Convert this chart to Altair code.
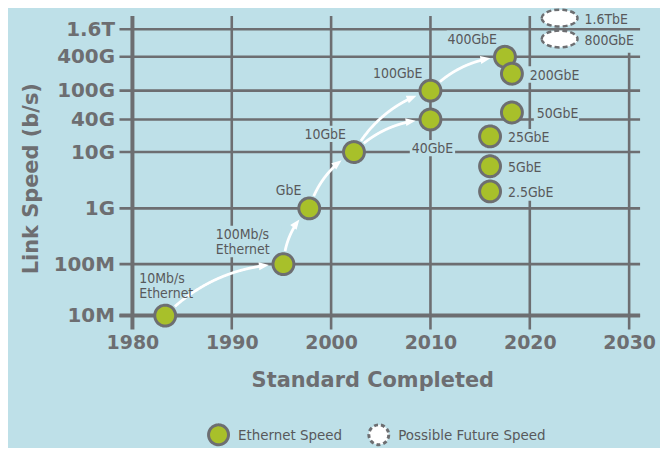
import altair as alt
import numpy as np
import pandas as pd

# ---------------- data ----------------
names = ["10Mb/s\nEthernet", "100Mb/s\nEthernet", "GbE", "10GbE", "40GbE", "100GbE",
         "400GbE", "200GbE", "50GbE", "25GbE", "5GbE", "2.5GbE"]
years = [1983.3, 1995.2, 1997.8, 2002.3, 2010.0, 2010.0,
         2017.5, 2018.2, 2018.2, 2016.0, 2016.0, 2016.0]
speeds = [1e7, 1e8, 1e9, 1e10, 4e10, 1e11,
          4e11, 2e11, 5e10, 1.95e10, 5.6e9, 2.0e9]
placements = ["above", "above-left", "upper-left", "upper-left", "below", "upper-left",
              "upper-left", "right", "right-wide", "right", "right", "right"]

future_names = ["1.6TbE", "800GbE"]
future_years = [2023.0, 2023.0]
future_speeds = [2.8e12, 9.8e11]
future_placements = ["right-wide", "right-wide"]

arrow_from = ["10Mb/s\nEthernet", "100Mb/s\nEthernet", "GbE", "10GbE", "10GbE", "100GbE"]
arrow_to = ["100Mb/s\nEthernet", "GbE", "10GbE", "40GbE", "100GbE", "400GbE"]

x_ticks = [1980, 1990, 2000, 2010, 2020, 2030]
y_ticks = [1e7, 1e8, 1e9, 1e10, 4e10, 1e11, 4e11, 1.6e12]
y_tick_labels = ["10M", "100M", "1G", "10G", "40G", "100G", "400G", "1.6T"]
legend_labels = ["Ethernet Speed", "Possible Future Speed"]

# ---------------- style / layout ----------------
BG = "#bee0e8"
GRID = "#6d6e71"
GREEN = "#a8c02a"
TXT = "#58595b"
BOLD = "DejaVu Sans"
NARROW = "DejaVu Sans Condensed, Liberation Sans Narrow, sans-serif"
LABEL_SIZE = 14
LINE_H = 15
W, H = 525, 315
X_RANGE = [15, 514]
Y_RANGE = [301, 249.3, 193.3, 136.7, 104, 75, 41, 13.3]

xs = alt.Scale(domain=[x_ticks[0], x_ticks[-1]], range=X_RANGE, nice=False, zero=False)
ys = alt.Scale(type="log", domain=y_ticks, range=Y_RANGE, nice=False, zero=False)

label_expr = " : ".join(
    f"datum.value == {v:.0f} ? '{t}'" for v, t in zip(y_ticks, y_tick_labels)) + " : ''"

x_axis = alt.Axis(values=x_ticks, format="d", domain=False, ticks=False, grid=False,
                  labelFont=BOLD, labelFontWeight="bold", labelFontSize=19, labelColor=GRID,
                  labelPadding=4, labelFlush=False, labelOverlap=False,
                  title="Standard Completed", titleFont=BOLD, titleFontWeight="bold",
                  titleFontSize=21, titleColor=GRID, titleX=256, titleY=51,
                  titleBaseline="middle", titleAlign="center")
y_axis = alt.Axis(values=y_ticks, labelExpr=label_expr, domain=False, ticks=False, grid=False,
                  labelFont=BOLD, labelFontWeight="bold", labelFontSize=20, labelColor=GRID,
                  labelPadding=3, labelOverlap=False, labelBaseline="middle",
                  title="Link Speed (b/s)", titleFont=BOLD, titleFontWeight="bold",
                  titleFontSize=21, titleColor=GRID, titleAngle=270, titleX=-86, titleY=163,
                  titleBaseline="middle", titleAlign="center")

X = alt.X("year:Q", scale=xs, axis=x_axis)
Y = alt.Y("speed:Q", scale=ys, axis=y_axis)

# ---------------- tables ----------------
pts = pd.DataFrame({"name": names, "year": years, "speed": speeds,
                    "placement": placements, "type": legend_labels[0]})
fut = pd.DataFrame({"name": future_names, "year": future_years, "speed": future_speeds,
                    "placement": future_placements, "type": legend_labels[1]})
labels = pd.concat([pts, fut], ignore_index=True)

hgrid = pd.DataFrame({"speed": y_ticks})
vgrid = pd.DataFrame({"year": x_ticks})

# helpers: data <-> pixel using the same scale definitions
lx = np.log10(y_ticks)
ppy = (X_RANGE[1] - X_RANGE[0]) / (x_ticks[-1] - x_ticks[0])


def interp_ext(v, xp, fp):
    xp = np.asarray(xp, float)
    fp = np.asarray(fp, float)
    if v < xp[0]:
        return fp[0] + (v - xp[0]) * (fp[1] - fp[0]) / (xp[1] - xp[0])
    if v > xp[-1]:
        return fp[-1] + (v - xp[-1]) * (fp[-1] - fp[-2]) / (xp[-1] - xp[-2])
    return float(np.interp(v, xp, fp))


def to_px(yr, sp):
    return np.array([X_RANGE[0] + (yr - x_ticks[0]) * ppy,
                     interp_ext(np.log10(sp), lx, Y_RANGE)])


def from_px(p):
    return (x_ticks[0] + (p[0] - X_RANGE[0]) / ppy,
            10 ** interp_ext(p[1], Y_RANGE[::-1], lx[::-1]))


# curved arrows computed from the point data
rows, heads = [], []
for k, (a, b) in enumerate(zip(arrow_from, arrow_to)):
    i, j = names.index(a), names.index(b)
    P0 = to_px(years[i], speeds[i])
    P1 = to_px(years[j], speeds[j])
    d = P1 - P0
    L = np.hypot(*d)
    u = d / L
    n = np.array([u[1], -u[0]])
    C = (P0 + P1) / 2 + n * 0.2 * L
    t = np.linspace(0, 1, 301)
    B = ((1 - t) ** 2)[:, None] * P0 + (2 * (1 - t) * t)[:, None] * C + (t ** 2)[:, None] * P1
    d0 = np.hypot(*(B - P0).T)
    d1 = np.hypot(*(B - P1).T)
    ti = np.where(d1 <= 15)[0][0]
    tt = t[ti]
    tan = 2 * (1 - tt) * (C - P0) + 2 * tt * (P1 - C)
    ang = float(np.degrees(np.arctan2(tan[1], tan[0])) % 360)
    keep = (d0 >= 13) & (d1 >= 20)
    for s, p in enumerate(B[keep]):
        yr, sp = from_px(p)
        rows.append({"arrow": k, "order": s, "year": yr, "speed": sp})
    yr, sp = from_px(B[ti])
    heads.append({"year": yr, "speed": sp, "angle": ang})
arrow_df = pd.DataFrame(rows)
head_df = pd.DataFrame(heads)

text_groups = {
    "right": dict(align="left", dx=18, dy=6),
    "right-wide": dict(align="left", dx=25, dy=6),
    "upper-left": dict(align="right", dx=-8, dy=-13),
    "above-left": dict(align="left", dx=-68, dy=-25),
    "above": dict(align="left", dx=-26, dy=-33),
    "below": dict(align="center", dx=2, dy=34),
}

# background boxes behind the labels, which break the grid lines as in the original
CHAR_W, CAP, PAD = 7.9, 10.5, 3
boxes = []
for _, r in labels.iterrows():
    g = text_groups[r["placement"]]
    ax, ay = to_px(r["year"], r["speed"]) + np.array([g["dx"], g["dy"]])
    lines = r["name"].split("\n")
    w = max(len(s) for s in lines) * CHAR_W
    x0 = {"left": ax, "right": ax - w, "center": ax - w / 2}[g["align"]]
    top = ay - CAP - PAD
    bot = ay + (len(lines) - 1) * LINE_H + PAD
    y0, s0 = from_px((x0 - PAD, top))
    y1, s1 = from_px((x0 + w + PAD, bot))
    boxes.append({"year": y0, "year2": y1, "speed": s0, "speed2": s1,
                  "placement": r["placement"], "x_at": r["year"]})
box_df = pd.DataFrame(boxes)

# one tall box over the stacked column of labels: it breaks only the vertical line
col = box_df[(box_df["placement"] == "right") & (box_df["x_at"] == 2016.0)]
col_df = pd.DataFrame([{"year": col["year"].min(), "year2": col["year2"].max(),
                        "speed": col["speed"].max(), "speed2": col["speed2"].min()}])
box_df = box_df[["year", "year2", "speed", "speed2"]]

# ---------------- layers ----------------
h_lines = alt.Chart(hgrid).mark_rule(color=GRID, strokeWidth=2.6).encode(
    y=Y, x=alt.value(2), x2=alt.value(W))
v_lines = alt.Chart(vgrid.iloc[1:-1]).mark_rule(color=GRID, strokeWidth=2.6).encode(
    x=X, y=alt.value(0), y2=alt.value(H))
v_last = alt.Chart(vgrid.iloc[-1:]).mark_rule(color=GRID, strokeWidth=2.6).encode(
    x=X, y=alt.value(37), y2=alt.value(H))
x_base = alt.Chart(hgrid.iloc[:1]).mark_rule(color=GRID, strokeWidth=4).encode(
    y=Y, x=alt.value(2), x2=alt.value(W))
y_base = alt.Chart(vgrid.iloc[:1]).mark_rule(color=GRID, strokeWidth=4).encode(
    x=X, y=alt.value(0), y2=alt.value(H))

col_mask = alt.Chart(col_df).mark_rect(color=BG, opacity=1).encode(
    x=X, x2="year2:Q", y=Y, y2="speed2:Q")
masks = alt.Chart(box_df).mark_rect(color=BG, opacity=1).encode(
    x=X, x2="year2:Q", y=Y, y2="speed2:Q")


def text_layer(group):
    opts = text_groups[group]
    return alt.Chart(labels).mark_text(
        color=TXT, font=NARROW, fontSize=LABEL_SIZE, lineBreak="\n", lineHeight=LINE_H,
        baseline="alphabetic", **opts).encode(
        x=X, y=Y, text="name:N").transform_filter(alt.datum.placement == group)


texts = [text_layer(g) for g in text_groups]

arrow_lines = alt.Chart(arrow_df).mark_line(color="white", strokeWidth=2.8,
                                            strokeCap="butt").encode(
    x=X, y=Y, detail="arrow:N", order="order:Q")
arrow_heads = alt.Chart(head_df).mark_point(
    shape="M0,0L-2,-0.8L-2,0.8Z", size=100, filled=True, fill="white",
    strokeWidth=0, opacity=1).encode(
    x=X, y=Y, angle=alt.Angle("angle:Q", scale=None))

ellipses = alt.Chart(fut).mark_point(
    shape="M-1,0A1,0.47,0,1,1,1,0A1,0.47,0,1,1,-1,0Z", size=1296, filled=True,
    fill="white", stroke=GRID, strokeWidth=2.5, strokeDash=[5, 3], opacity=1).encode(
    x=X, y=Y)


def make_legend():
    return alt.Legend(
        orient="none", legendX=90, legendY=409, direction="horizontal", title=None,
        symbolType="circle", symbolSize=400, symbolStrokeWidth=3, symbolStrokeColor=GRID,
        labelFont=NARROW, labelFontSize=15, labelColor=TXT, labelOffset=8, labelLimit=0,
        columnPadding=20, padding=0)


circles = alt.Chart(pts).mark_circle(size=440, stroke=GRID, strokeWidth=3, opacity=1).encode(
    x=X, y=Y,
    fill=alt.Fill("type:N", scale=alt.Scale(domain=legend_labels, range=[GREEN, "white"]),
                  legend=make_legend()),
    strokeDash=alt.StrokeDash("type:N",
                              scale=alt.Scale(domain=legend_labels, range=[[1, 0], [4, 3]]),
                              legend=make_legend()))

chart = alt.layer(
    v_lines, v_last, y_base, col_mask, h_lines, x_base, masks, arrow_lines, arrow_heads,
    ellipses, circles, *texts
).properties(
    width=W, height=H,
    padding={"left": 110, "top": 7, "right": 20, "bottom": 118},
    autosize=alt.AutoSizeParams(type="none"),
    background=BG,
    usermeta={"embedOptions": {"defaultStyle":
                               "html,body{background:#bee0e8;overflow:hidden}"}},
).configure_view(stroke=None)

chart.save("out.html", embed_options={"renderer": "svg", "actions": False})
